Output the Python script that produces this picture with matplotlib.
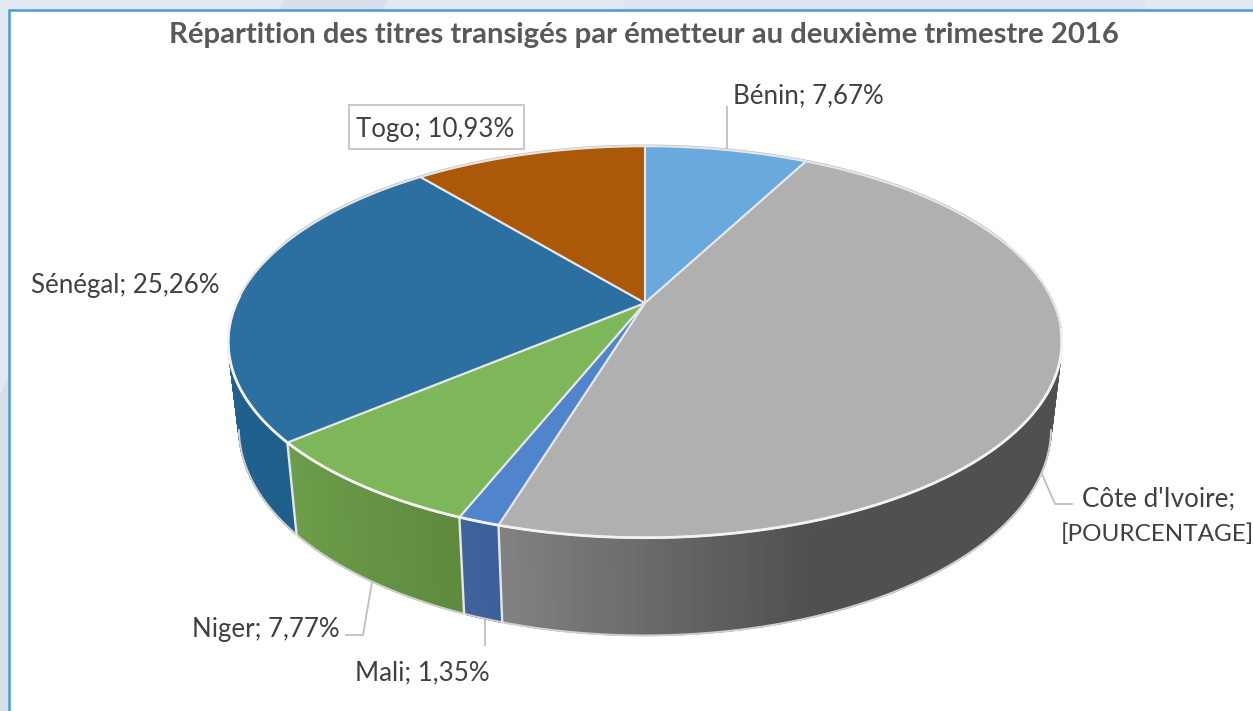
#!/usr/bin/env python3
"""Camembert 3D : titres transigés par émetteur, 2e trimestre 2016."""

import matplotlib
matplotlib.use("Agg")
import matplotlib.pyplot as plt
import numpy as np
from matplotlib.collections import PolyCollection
from matplotlib.colors import to_rgb
from matplotlib.patches import Polygon, Rectangle

plt.rcParams["font.family"] = ["Lato", "DejaVu Sans"]

TITLE = "Répartition des titres transigés par émetteur au deuxième trimestre 2016"
countries = ["Bénin", "Côte d'Ivoire", "Mali", "Niger", "Sénégal", "Togo"]
shares = [7.67, 47.02, 1.35, 7.77, 25.26, 10.93]
top_colors = ["#6aa9dd", "#b0b0b0", "#5085cd", "#7eb65a", "#2c6fa1", "#ab5808"]
# side colour at the first and last angle of each slice
side_start = ["#5a8fbb", "#505050", "#3b5f9c", "#5f8a3e", "#1f5f8c", "#8a4706"]
side_end = ["#5a8fbb", "#828282", "#41639b", "#6d9e4b", "#27658f", "#8a4706"]

W, H = 1253, 711
CX, CY, K = 645, 303, 0.199
TOP_A, TOP_B = 408.5, 188
BOT_CY, BOT_A, BOT_B = 387, 398, 199
EDGE = "#e6e6e6"
RIM = "#f2f2f2"
LEADER = "#bfbfbf"
TEXT = "#404040"
LABEL_SIZE = 18.6


def project(theta, cy, a, b):
    # theta clockwise from the back of the pie, with a simple perspective
    u, v = np.sin(theta), np.cos(theta)
    w = 1 + K * v
    return CX + a * u / w, cy - b * v / w


def top_rim(theta):
    return project(theta, CY, TOP_A, TOP_B)


def bottom_rim(theta):
    return project(theta, BOT_CY, BOT_A, BOT_B)


def side_color(i, t, x):
    # the big grey slice is shaded along x: flat dark on the right, lighter at the front
    if countries[i] == "Côte d'Ivoire":
        t = np.clip((810 - x) / 305, 0, 1)
    c0, c1 = np.array(to_rgb(side_start[i])), np.array(to_rgb(side_end[i]))
    return tuple(c0 + (c1 - c0) * t)


fig = plt.figure(figsize=(W / 100, H / 100), dpi=100, facecolor="#e2e9f3")
ax = fig.add_axes([0, 0, 1, 1])
ax.set_xlim(0, W)
ax.set_ylim(H, 0)
ax.axis("off")

# page background and chart frame
ax.add_patch(Polygon([(279, 10), (285, 0), (388, 0), (382, 10)], fc="#d7dfea", ec="none"))
ax.add_patch(Polygon([(623, 10), (623, 0), (1146, 0), (1146, 10)], fc="#dde5f0", ec="none"))
ax.add_patch(Polygon([(0, 395), (8, 378), (8, 711), (0, 711)], fc="#d7dfea", ec="none"))
ax.add_patch(Rectangle((9, 10), W, H, fc="white", ec="#4a9bd5", lw=1.8))

ax.text(644, 35, TITLE, ha="center", va="center", fontsize=21.1,
        fontweight="bold", color="#595959")

bounds = np.radians(np.cumsum([0] + shares) * 3.6)

# side wall, cut in thin strips for the gradient
for i in range(len(shares)):
    start = max(bounds[i], np.radians(70))
    end = min(bounds[i + 1], np.radians(290))
    if end <= start:
        continue
    steps = np.linspace(start, end, 121)
    quads, colors = [], []
    for a0, a1 in zip(steps[:-1], steps[1:]):
        x0, y0 = top_rim(a0)
        x1, y1 = top_rim(a1)
        x2, y2 = bottom_rim(a1)
        x3, y3 = bottom_rim(a0)
        quads.append([(x0, y0), (x1, y1), (x2, y2), (x3, y3)])
        t = (a0 - bounds[i]) / (bounds[i + 1] - bounds[i])
        colors.append(side_color(i, t, x3))
    ax.add_collection(PolyCollection(quads, facecolors=colors, edgecolors=colors,
                                     linewidths=1.0, zorder=2))

# outer silhouette of the drum and of the back of the top face
th = np.linspace(np.radians(102), np.radians(258), 300)
bx, by = bottom_rim(th)
ax.plot(bx, by, color="#d0d0d0", lw=1.4, zorder=2.5)
th = np.linspace(np.radians(-70), np.radians(70), 300)
bx, by = top_rim(th)
ax.plot(bx, by, color="#bdbdbd", lw=2.4, zorder=2.5)

# vertical seams between visible slices
for b in bounds[2:5]:
    x0, y0 = top_rim(b)
    x1, y1 = bottom_rim(b)
    ax.plot([x0, x1], [y0, y1], color=EDGE, lw=1.7, zorder=3)

# top face
for i in range(len(shares)):
    th = np.linspace(bounds[i], bounds[i + 1], 200)
    x, y = top_rim(th)
    pts = np.vstack([[CX, CY], np.column_stack([x, y])])
    ax.add_patch(Polygon(pts, closed=True, fc=top_colors[i], ec=EDGE, lw=1.5,
                         joinstyle="round", zorder=4))

# bright edge where the top face meets the side wall
th = np.linspace(np.radians(98), np.radians(272), 300)
bx, by = top_rim(th)
ax.plot(bx, by, color=RIM, lw=2.0, zorder=4.5)

# leader lines
leaders = [
    [(727, 107), (727, 149)],
    [(372, 582), (363, 635), (346, 635)],
    [(485, 618), (485, 645)],
    [(1041, 472), (1055, 504), (1072, 504)],
]
for line in leaders:
    lx, ly = zip(*line)
    ax.plot(lx, ly, color=LEADER, lw=1.3, zorder=1.5)

# data labels
fmt = {c: f"{c}; {str(v).replace('.', ',')}%" for c, v in zip(countries, shares)}
label_pos = {
    "Bénin": (808, 96),
    "Togo": (435, 130),
    "Sénégal": (125, 286),
    "Niger": (266, 630),
    "Mali": (422, 673),
}
for c, (x, y) in label_pos.items():
    ax.text(x, y, fmt[c], ha="center", va="center", fontsize=LABEL_SIZE, color=TEXT, zorder=6)

# this one keeps Excel's unresolved field, on two lines
ax.text(1159, 499, "Côte d'Ivoire;", ha="center", va="center",
        fontsize=LABEL_SIZE, color=TEXT, zorder=6)
ax.text(1157, 534, "[POURCENTAGE]", ha="center", va="center",
        fontsize=17.5, color=TEXT, zorder=6)

ax.add_patch(Rectangle((349, 105), 175, 44, fc="none", ec="#c9c9c9", lw=1.5, zorder=5))

fig.savefig("out.png", dpi=100)
